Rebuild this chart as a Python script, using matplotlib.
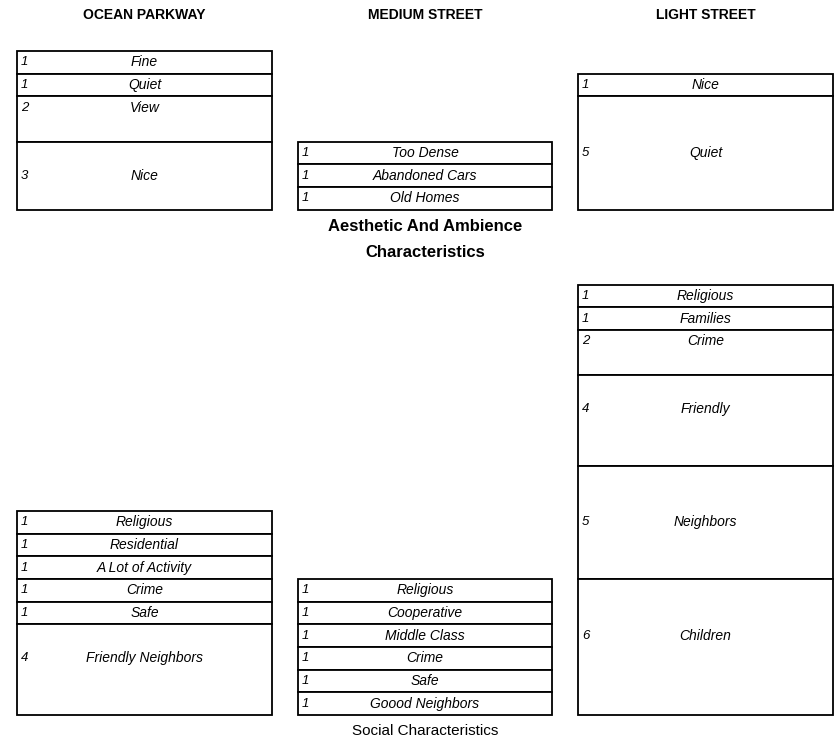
"""Neighbourhood descriptions: stacked word-count boxes for three streets."""

import matplotlib

matplotlib.use("Agg")

import matplotlib.pyplot as plt
import math

STREETS = ["OCEAN PARKWAY", "MEDIUM STREET", "LIGHT STREET"]

# top-to-bottom order as printed
OCEAN_AES_LABELS = ["Fine", "Quiet", "View", "Nice"]
OCEAN_AES_COUNTS = [1, 1, 2, 3]
MEDIUM_AES_LABELS = ["Too Dense", "Abandoned Cars", "Old Homes"]
MEDIUM_AES_COUNTS = [1, 1, 1]
LIGHT_AES_LABELS = ["Nice", "Quiet"]
LIGHT_AES_COUNTS = [1, 5]

OCEAN_SOC_LABELS = ["Religious", "Residential", "A Lot of Activity", "Crime", "Safe", "Friendly Neighbors"]
OCEAN_SOC_COUNTS = [1, 1, 1, 1, 1, 4]
MEDIUM_SOC_LABELS = ["Religious", "Cooperative", "Middle Class", "Crime", "Safe", "Goood Neighbors"]
MEDIUM_SOC_COUNTS = [1, 1, 1, 1, 1, 1]
LIGHT_SOC_LABELS = ["Religious", "Families", "Crime", "Friendly", "Neighbors", "Children"]
LIGHT_SOC_COUNTS = [1, 1, 2, 4, 5, 6]

AES_TITLE = "Aesthetic And Ambience\nCharacteristics"
SOC_TITLE = "Social Characteristics"

NARROW = ["Liberation Sans Narrow", "Liberation Sans", "DejaVu Sans"]
PX_UNIT = 22.65
AES_BASE = (715 - 209.5) / PX_UNIT
BAR_W = 0.909


def draw_stack(ax, col, labels, counts, base):
    top = base + sum(counts)
    for lab, n in zip(labels, counts):
        bottom = top - n
        ax.bar(col, n, bottom=bottom, width=BAR_W, facecolor="white", edgecolor="black", linewidth=1.3)
        ty = top - (math.ceil(n / 2) - 0.5)
        ax.text(col - BAR_W / 2 + 0.014, ty, str(n), ha="left", va="center", fontsize=9.5,
                style="italic", family=NARROW)
        ax.text(col, ty, lab, ha="center", va="center", fontsize=10, style="italic", family=NARROW)
        top = bottom


def main():
    fig = plt.figure(figsize=(8.39, 7.47), dpi=100)
    ax = fig.add_axes([0, 0, 1, 1])
    ax.set_xlim(-144.5 / 280.5, (839 - 144.5) / 280.5)
    ax.set_ylim(-32 / PX_UNIT, 715 / PX_UNIT)
    ax.axis("off")

    aes = [(OCEAN_AES_LABELS, OCEAN_AES_COUNTS), (MEDIUM_AES_LABELS, MEDIUM_AES_COUNTS),
           (LIGHT_AES_LABELS, LIGHT_AES_COUNTS)]
    soc = [(OCEAN_SOC_LABELS, OCEAN_SOC_COUNTS), (MEDIUM_SOC_LABELS, MEDIUM_SOC_COUNTS),
           (LIGHT_SOC_LABELS, LIGHT_SOC_COUNTS)]
    for i, name in enumerate(STREETS):
        draw_stack(ax, i, *aes[i], AES_BASE)
        draw_stack(ax, i, *soc[i], 0.0)
        ax.text(i, (715 - 15) / PX_UNIT, name, ha="center", va="center", fontsize=10,
                fontweight="bold", family=NARROW)

    ax.text(1, (715 - 239.5) / PX_UNIT, AES_TITLE, ha="center", va="center", fontsize=12,
            fontweight="bold", family=NARROW, linespacing=1.95)
    ax.text(1, (715 - 731) / PX_UNIT, SOC_TITLE, ha="center", va="center", fontsize=11,
            family=NARROW)

    fig.savefig("out.png", dpi=100, facecolor="white")
    plt.close(fig)


if __name__ == "__main__":
    main()
